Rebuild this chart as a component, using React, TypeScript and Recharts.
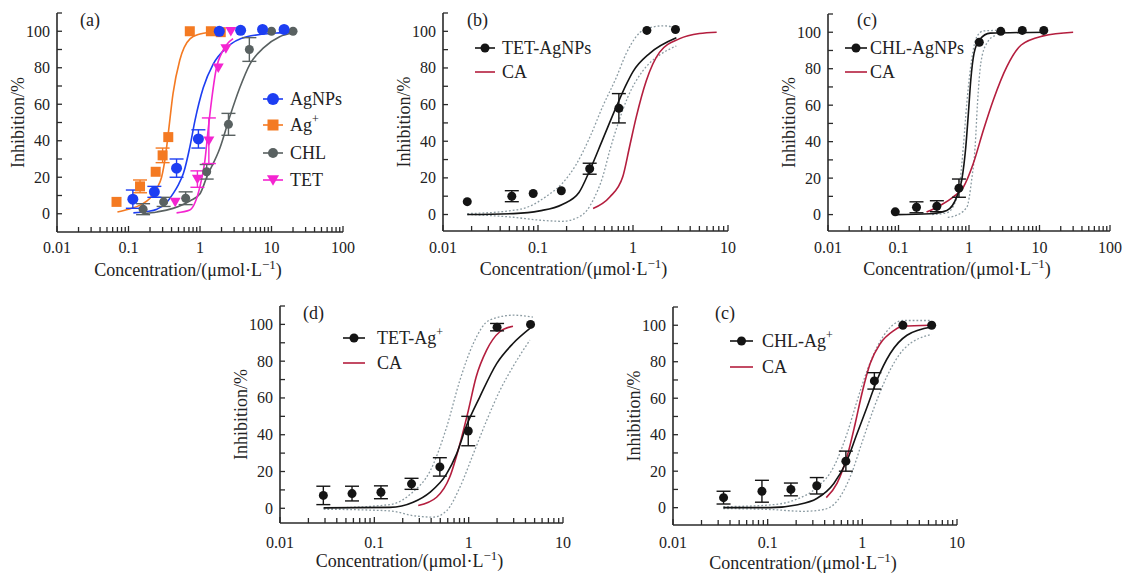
import React from "react";
import { ComposedChart, Line, Scatter, XAxis, YAxis, ErrorBar, Legend, Label } from "recharts";

const FONT = "'Liberation Serif', 'Times New Roman', serif";
const TXT = { fontFamily: FONT };
const AXIS = "#2a2a2a";
const BLUE = "#1d3ef2";
const ORANGE = "#f47a22";
const GRAY = "#596161";
const PINK = "#f424d0";
const BLACK = "#141414";
const RED = "#b41e3e";
const DOT = "#8b9ba2";

// [concentration, inhibition %, error]
type Row = [number, number, number?];

// ---- panel (a)
const agnpsPts: Row[] = [[0.115, 8, 5], [0.23, 12, 3], [0.47, 25, 5], [0.95, 41, 5], [1.86, 100], [3.7, 100.5], [7.5, 101], [15, 101]];
const agIonPts: Row[] = [[0.068, 6.5], [0.145, 15, 3.5], [0.24, 23], [0.3, 32, 4], [0.36, 42], [0.72, 100], [1.42, 100], [1.95, 99.5]];
const chlPts: Row[] = [[0.16, 2.5, 3], [0.31, 6.5, 2.5], [0.63, 8.5, 3.5], [1.24, 23, 4], [2.5, 49, 6], [4.9, 90, 6.5], [10, 100], [20, 100]];
const tetPts: Row[] = [[0.45, 6.5], [0.92, 19, 4.5], [1.33, 40, 12.5], [1.8, 80], [2.3, 90.5], [2.7, 100]];
const agnpsFit: Row[] = [[0.117, 0.5], [0.18, 1.2], [0.25, 2.5], [0.33, 5.5], [0.42, 11], [0.5, 16], [0.585, 22], [0.725, 37], [0.85, 51], [1.11, 69], [1.53, 82], [2.35, 91], [4.5, 97], [11.8, 99], [18, 99.5]];
const agIonFit: Row[] = [[0.07, 1], [0.1, 2.5], [0.15, 5], [0.2, 8.5], [0.25, 14], [0.29, 20], [0.33, 32], [0.36, 44], [0.42, 66], [0.52, 84], [0.73, 96], [1.0, 98.5], [1.4, 99.5], [1.9, 100]];
const chlFit: Row[] = [[0.16, 0], [0.25, 1], [0.34, 2], [0.5, 4], [0.72, 7], [1.0, 11], [1.24, 20], [1.9, 36], [2.6, 53], [3.6, 69], [5, 82], [7.8, 91], [13, 97], [20, 99]];
const tetFit: Row[] = [[0.47, 0.5], [0.72, 2], [0.85, 6], [1.0, 15], [1.17, 29], [1.3, 46], [1.45, 62], [1.67, 78.5], [2.1, 89.5], [2.9, 96]];

// ---- panel (b)
const tetAgnpsPts: Row[] = [[0.018, 7], [0.053, 10, 3], [0.089, 11.5], [0.176, 13], [0.35, 25, 3], [0.71, 58, 8], [1.4, 100.5], [2.8, 101]];
const bFit: Row[] = [[0.018, 0], [0.055, 0.5], [0.104, 2], [0.18, 5.5], [0.27, 12], [0.35, 24], [0.48, 41], [0.67, 59], [0.85, 71], [1.0, 78], [1.5, 88], [2.86, 96.5]];
const bCA: Row[] = [[0.38, 3.3], [0.57, 9.6], [0.78, 20.6], [0.92, 37], [1.08, 53], [1.38, 73], [1.9, 88.5], [3.1, 96], [5, 98.8], [7.6, 99.5]];
const bUpper: Row[] = [[0.018, 0.5], [0.05, 2], [0.082, 4.5], [0.123, 10], [0.18, 17], [0.25, 27], [0.35, 42], [0.48, 59], [0.67, 75], [0.85, 88], [1.32, 101], [2.1, 103], [2.86, 102]];
const bLower: Row[] = [[0.018, 0], [0.055, -1.5], [0.1, -3], [0.18, -3.7], [0.27, -1.3], [0.33, 2.5], [0.38, 7.8], [0.48, 20.6], [0.57, 35], [0.7, 50], [0.88, 64], [1.25, 78], [1.9, 87], [2.86, 92]];

// ---- panel (c), top right
const chlAgnpsPts: Row[] = [[0.09, 1.5], [0.18, 4, 3], [0.35, 4.6, 3], [0.72, 14.5, 5], [1.4, 94.5], [2.82, 100.5], [5.7, 101], [11.5, 101]];
const cFit: Row[] = [[0.09, 0], [0.28, 0.5], [0.485, 2.3], [0.67, 9.7], [0.79, 19], [0.9, 37], [0.98, 55.5], [1.06, 73.8], [1.18, 88.5], [1.4, 95.8], [2.0, 99.5], [12.6, 100]];
const cCA: Row[] = [[0.25, 1.4], [0.39, 5], [0.6, 9.7], [0.83, 15], [1.15, 28], [1.59, 46], [2.22, 63], [3.43, 81], [5.5, 93], [11.3, 98], [30, 100]];
const cUpper: Row[] = [[0.3, 0], [0.485, 1], [0.64, 7], [0.75, 19], [0.83, 37], [0.93, 61], [1.09, 85], [1.29, 97.5], [1.59, 100.7], [2.42, 101]];
const cLower: Row[] = [[0.5, -1.5], [0.6, -1], [0.93, 4], [1.09, 19], [1.22, 37], [1.32, 61], [1.47, 83], [1.79, 94], [2.42, 98.5]];

// ---- panel (d)
const tetAgIonPts: Row[] = [[0.0288, 7, 5], [0.058, 8, 4], [0.1175, 8.7, 3.5], [0.248, 13.3, 3], [0.495, 22.5, 5], [0.99, 42, 8], [2.0, 98.5, 2], [4.53, 100]];
const dFit: Row[] = [[0.029, 0.2], [0.146, 0.5], [0.258, 3.3], [0.388, 8.7], [0.583, 18.7], [0.745, 29.6], [0.95, 45], [1.31, 60.5], [1.98, 78.7], [2.95, 89.6], [4.46, 97.8]];
const dCA: Row[] = [[0.292, 1.5], [0.457, 6], [0.63, 17], [0.807, 35], [0.99, 53], [1.2, 71.4], [1.55, 86], [2.14, 96], [2.95, 99]];
const dUpper: Row[] = [[0.029, 0], [0.146, 2], [0.258, 9], [0.388, 20], [0.583, 44], [0.807, 69.6], [1.12, 89.6], [1.66, 102.3], [2.95, 105], [4.8, 104]];
const dLower: Row[] = [[0.029, -0.5], [0.146, -1.4], [0.258, -4], [0.42, -4.8], [0.583, -1.4], [0.807, 11.4], [1.12, 29.6], [1.55, 47.7], [2.14, 64], [2.95, 77], [4.46, 91.5]];

// ---- panel (c), bottom right
const chlAgIonPts: Row[] = [[0.0342, 5.5, 3.5], [0.087, 9, 6], [0.176, 10, 3.5], [0.33, 12, 4.5], [0.67, 25.5, 5.5], [1.34, 69.5, 4.5], [2.68, 100], [5.4, 100]];
const eFit: Row[] = [[0.034, 0], [0.106, 0], [0.2, 1.5], [0.33, 5], [0.5, 13.3], [0.69, 26], [0.88, 40.7], [1.12, 55], [1.43, 70], [1.97, 84.5], [2.96, 94.5], [5.4, 99]];
const eCA: Row[] = [[0.416, 5.5], [0.54, 13.3], [0.69, 28], [0.84, 46], [0.99, 62.6], [1.21, 79], [1.55, 90], [2.14, 97], [2.68, 99.5], [5.2, 100]];
const eUpper: Row[] = [[0.034, 0.5], [0.106, 1.5], [0.2, 4.5], [0.33, 11], [0.5, 22.5], [0.69, 40.7], [0.88, 58.5], [1.12, 75], [1.43, 88], [1.97, 98.8], [2.72, 102.6], [5.4, 102.6]];
const eLower: Row[] = [[0.034, -0.5], [0.106, -1], [0.24, -2], [0.39, -1], [0.54, 3.6], [0.75, 17.3], [0.99, 35.6], [1.31, 53.9], [1.82, 72], [2.72, 86.7], [5.4, 95]];

// axis ticks
const decades4 = [0.01, 0.1, 1, 10, 100];
const decades3 = [0.01, 0.1, 1, 10];
const yTicks = [0, 10, 20, 30, 40, 50, 60, 70, 80, 90, 100, 110];
const yLabels = [0, 20, 40, 60, 80, 100];

const toPts = (rows: Row[]) => rows.map(([c, v, err]) => ({ c, v, err: err ?? 0 }));

function minorTicks(dec: number[]) {
  const out: number[] = [];
  dec.forEach((d, i) => {
    out.push(d);
    if (i < dec.length - 1) for (let k = 2; k <= 9; k++) out.push(d * k);
  });
  return out;
}

type Kind = "circle" | "square" | "tri";

function Mark({ kind, x, y, r, color }: { kind: Kind; x: number; y: number; r: number; color: string }) {
  if (kind === "square") return <rect x={x - r} y={y - r} width={2 * r} height={2 * r} fill={color} />;
  if (kind === "tri")
    return <polygon points={`${x - r * 1.1},${y - r * 0.85} ${x + r * 1.1},${y - r * 0.85} ${x},${y + r * 1.05}`} fill={color} />;
  return <circle cx={x} cy={y} r={r} fill={color} />;
}

interface LegendRow { label: string; sup?: string; color: string; kind?: Kind; r?: number; y: number }
interface LegendSpec { x: number; y: number; lineW: number; textX: number; rows: LegendRow[] }

function LegendBox({ spec }: { spec: LegendSpec }) {
  return (
    <svg width={160} height={110} style={{ overflow: "visible", display: "block" }}>
      {spec.rows.map((r, i) => (
        <g key={i}>
          <line x1={0} x2={spec.lineW} y1={r.y} y2={r.y} stroke={r.color} strokeWidth={1.6} />
          {r.kind && <Mark kind={r.kind} x={spec.lineW / 2} y={r.y} r={r.r ?? 4.5} color={r.color} />}
          <text x={spec.textX} y={r.y + 6} style={TXT} fontSize={18} fill="#222">
            {r.label}
            {r.sup && (
              <tspan dy={-8} fontSize={12}>
                {r.sup}
              </tspan>
            )}
          </text>
        </g>
      ))}
    </svg>
  );
}

interface LineSpec { rows: Row[]; color: string; dotted?: boolean }
interface PtsSpec { rows: Row[]; color: string; kind: Kind; r: number }
interface PanelSpec {
  left: number; top: number; width: number; height: number;
  plot: { l: number; r: number; t: number; b: number };
  decades: number[]; yMin: number; tickDy: number;
  tag: string; tagX: number; tagY: number;
  lines: LineSpec[]; points: PtsSpec[]; legend: LegendSpec;
}

function Panel({ s }: { s: PanelSpec }) {
  const majors = s.decades;
  const XTick = (props: any) => {
    const { x, y, payload } = props;
    const major = majors.includes(payload.value);
    return (
      <g>
        <line x1={x} x2={x} y1={y} y2={y - (major ? 6 : 5)} stroke={AXIS} strokeWidth={1.3} />
        {major && (
          <text x={x} y={y + s.tickDy} textAnchor="middle" style={TXT} fontSize={16} fill="#222">
            {String(payload.value)}
          </text>
        )}
      </g>
    );
  };
  const YTick = (props: any) => {
    const { x, y, payload } = props;
    const lab = yLabels.includes(payload.value);
    return (
      <g>
        <line x1={x} x2={x + 5} y1={y} y2={y} stroke={AXIS} strokeWidth={1.3} />
        {lab && (
          <text x={x - 7} y={y + 5.5} textAnchor="end" style={TXT} fontSize={16} fill="#222">
            {payload.value}
          </text>
        )}
      </g>
    );
  };
  const XTitle = (props: any) => {
    const vb = props.viewBox;
    return (
      <text x={vb.x + vb.width / 2 - 12} y={vb.y + 44} textAnchor="middle" style={TXT} fontSize={18} fill="#222">
        Concentration/(μmol·L
        <tspan dy={-7} fontSize={13}>−1</tspan>
        <tspan dy={7}>)</tspan>
      </text>
    );
  };
  const YTitle = (props: any) => {
    const vb = props.viewBox;
    const cx = vb.x + vb.width - 39;
    const cy = vb.y + vb.height / 2;
    return (
      <text x={cx} y={cy} transform={`rotate(-90 ${cx} ${cy})`} textAnchor="middle" dominantBaseline="central" style={TXT} fontSize={18} fill="#222">
        Inhibition/%
      </text>
    );
  };
  const Tag = () => (
    <text x={s.tagX} y={s.tagY} style={TXT} fontSize={18} fill="#222">
      {s.tag}
    </text>
  );

  return (
    <div style={{ position: "absolute", left: s.left, top: s.top }}>
      <ComposedChart
        width={s.width}
        height={s.height}
        margin={{ top: s.plot.t, right: s.width - s.plot.r, bottom: 0, left: 0 }}
        style={TXT}
      >
        <XAxis
          type="number"
          dataKey="c"
          scale="log"
          domain={[s.decades[0], s.decades[s.decades.length - 1]]}
          ticks={minorTicks(s.decades)}
          interval={0}
          allowDataOverflow
          height={s.height - s.plot.b}
          tickSize={0}
          tickMargin={0}
          tickLine={false}
          axisLine={{ stroke: AXIS, strokeWidth: 1.6 }}
          tick={XTick}
        >
          <Label content={XTitle} />
        </XAxis>
        <YAxis
          type="number"
          dataKey="v"
          domain={[s.yMin, 110]}
          ticks={yTicks}
          interval={0}
          allowDataOverflow
          width={s.plot.l}
          tickSize={0}
          tickMargin={0}
          tickLine={false}
          axisLine={{ stroke: AXIS, strokeWidth: 1.6 }}
          tick={YTick}
        >
          <Label content={YTitle} />
          <Label content={Tag} />
        </YAxis>
        {s.lines.map((l, i) => (
          <Line
            key={`l${i}`}
            data={toPts(l.rows)}
            dataKey="v"
            type="monotone"
            stroke={l.color}
            strokeWidth={l.dotted ? 1.3 : 1.6}
            strokeDasharray={l.dotted ? "1.8 2" : undefined}
            dot={false}
            activeDot={false}
            isAnimationActive={false}
            legendType="none"
          />
        ))}
        {s.points.map((p, i) => (
          <Scatter
            key={`p${i}`}
            data={toPts(p.rows)}
            isAnimationActive={false}
            legendType="none"
            shape={(props: any) => <Mark kind={p.kind} x={props.cx} y={props.cy} r={p.r} color={p.color} />}
          >
            <ErrorBar dataKey="err" direction="y" width={7} stroke={p.color} strokeWidth={1.4} />
          </Scatter>
        ))}
        <Legend
          layout="vertical"
          align="center"
          verticalAlign="middle"
          wrapperStyle={{ left: s.legend.x, top: s.legend.y, width: 160, height: 110 }}
          content={() => <LegendBox spec={s.legend} />}
        />
      </ComposedChart>
    </div>
  );
}

const panels: PanelSpec[] = [
  {
    left: 0, top: 0, width: 360, height: 290,
    plot: { l: 57, r: 343, t: 13, b: 232 },
    decades: decades4, yMin: -10, tickDy: 21,
    tag: "(a)", tagX: 80, tagY: 26,
    lines: [
      { rows: agIonFit, color: ORANGE },
      { rows: agnpsFit, color: BLUE },
      { rows: chlFit, color: GRAY },
      { rows: tetFit, color: PINK },
    ],
    points: [
      { rows: agIonPts, color: ORANGE, kind: "square", r: 5 },
      { rows: chlPts, color: GRAY, kind: "circle", r: 4.5 },
      { rows: tetPts, color: PINK, kind: "tri", r: 5 },
      { rows: agnpsPts, color: BLUE, kind: "circle", r: 5.5 },
    ],
    legend: {
      x: 263, y: 87, lineW: 20, textX: 27,
      rows: [
        { label: "AgNPs", color: BLUE, kind: "circle", r: 6, y: 12 },
        { label: "Ag", sup: "+", color: ORANGE, kind: "square", r: 5.5, y: 38 },
        { label: "CHL", color: GRAY, kind: "circle", r: 5, y: 66 },
        { label: "TET", color: PINK, kind: "tri", r: 5.5, y: 93 },
      ],
    },
  },
  {
    left: 380, top: 0, width: 380, height: 290,
    plot: { l: 63, r: 348, t: 13, b: 231 },
    decades: decades3, yMin: -9, tickDy: 22,
    tag: "(b)", tagX: 87, tagY: 26,
    lines: [
      { rows: bUpper, color: DOT, dotted: true },
      { rows: bLower, color: DOT, dotted: true },
      { rows: bCA, color: RED },
      { rows: bFit, color: BLACK },
    ],
    points: [{ rows: tetAgnpsPts, color: BLACK, kind: "circle", r: 4.5 }],
    legend: {
      x: 95, y: 36, lineW: 20, textX: 27,
      rows: [
        { label: "TET-AgNPs", color: BLACK, kind: "circle", r: 4.5, y: 12 },
        { label: "CA", color: RED, y: 36 },
      ],
    },
  },
  {
    left: 760, top: 0, width: 374, height: 290,
    plot: { l: 68, r: 350, t: 14, b: 231 },
    decades: decades4, yMin: -9, tickDy: 22,
    tag: "(c)", tagX: 97, tagY: 26,
    lines: [
      { rows: cUpper, color: DOT, dotted: true },
      { rows: cLower, color: DOT, dotted: true },
      { rows: cCA, color: RED },
      { rows: cFit, color: BLACK },
    ],
    points: [{ rows: chlAgnpsPts, color: BLACK, kind: "circle", r: 4.5 }],
    legend: {
      x: 85, y: 36, lineW: 22, textX: 25,
      rows: [
        { label: "CHL-AgNPs", color: BLACK, kind: "circle", r: 4.5, y: 12 },
        { label: "CA", color: RED, y: 36 },
      ],
    },
  },
  {
    left: 210, top: 290, width: 380, height: 286,
    plot: { l: 70, r: 353, t: 16, b: 233 },
    decades: decades3, yMin: -8, tickDy: 25,
    tag: "(d)", tagX: 93, tagY: 29,
    lines: [
      { rows: dUpper, color: DOT, dotted: true },
      { rows: dLower, color: DOT, dotted: true },
      { rows: dCA, color: RED },
      { rows: dFit, color: BLACK },
    ],
    points: [{ rows: tetAgIonPts, color: BLACK, kind: "circle", r: 4.5 }],
    legend: {
      x: 133, y: 36, lineW: 22, textX: 34,
      rows: [
        { label: "TET-Ag", sup: "+", color: BLACK, kind: "circle", r: 4.5, y: 12 },
        { label: "CA", color: RED, y: 37 },
      ],
    },
  },
  {
    left: 590, top: 290, width: 400, height: 286,
    plot: { l: 83, r: 367, t: 17, b: 235 },
    decades: decades3, yMin: -9.5, tickDy: 23,
    tag: "(c)", tagX: 125, tagY: 29,
    lines: [
      { rows: eUpper, color: DOT, dotted: true },
      { rows: eLower, color: DOT, dotted: true },
      { rows: eCA, color: RED },
      { rows: eFit, color: BLACK },
    ],
    points: [{ rows: chlAgIonPts, color: BLACK, kind: "circle", r: 4.5 }],
    legend: {
      x: 140, y: 39, lineW: 23, textX: 32,
      rows: [
        { label: "CHL-Ag", sup: "+", color: BLACK, kind: "circle", r: 4.5, y: 12 },
        { label: "CA", color: RED, y: 38 },
      ],
    },
  },
];

export default function App() {
  return (
    <div style={{ position: "absolute", left: 0, top: 0, width: 1134, height: 576, background: "#fff", overflow: "hidden" }}>
      {panels.map((s, i) => (
        <Panel key={i} s={s} />
      ))}
    </div>
  );
}
